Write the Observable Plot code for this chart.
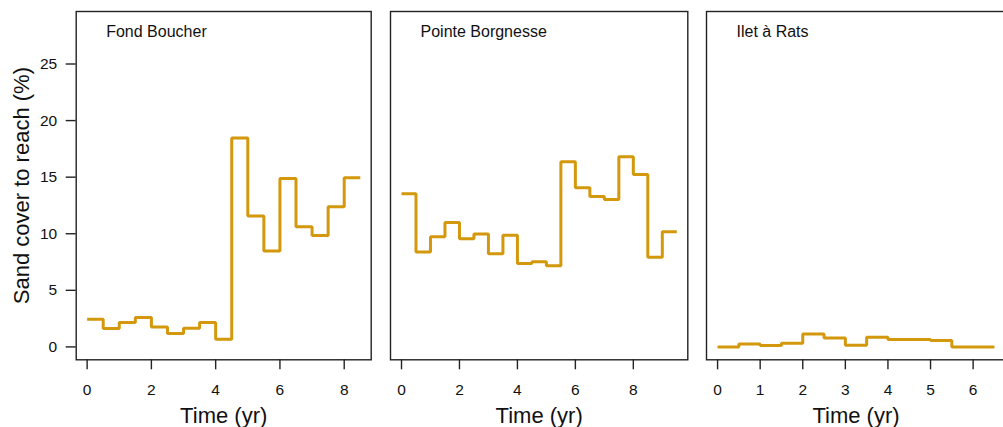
<!DOCTYPE html>
<html>
<head>
<meta charset="utf-8">
<script src="https://cdn.jsdelivr.net/npm/d3@7"></script>
<script src="https://cdn.jsdelivr.net/npm/@observablehq/plot@0.6"></script>
<style>
html, body { margin: 0; padding: 0; background: #fff; overflow: hidden; }
#chart { position: relative; width: 1003px; height: 427px; overflow: hidden; background: #fff; }
#chart > svg { position: absolute; top: 0; }
</style>
</head>
<body>
<div id="chart"></div>
<script>
// ---- data ----
const siteNames = ["Fond Boucher", "Pointe Borgnesse", "Ilet à Rats"];
const stepYears = 0.5;
const fondBoucher = [2.45, 1.62, 2.15, 2.59, 1.76, 1.18, 1.65, 2.15, 0.68, 18.47, 11.56, 8.47, 14.88, 10.62, 9.85, 12.38, 14.94];
const pointeBorgnesse = [13.54, 8.38, 9.74, 11.0, 9.56, 9.97, 8.24, 9.86, 7.36, 7.53, 7.18, 16.36, 14.07, 13.3, 13.03, 16.8, 15.24, 7.92, 10.18];
const iletARats = [0, 0.26, 0.12, 0.32, 1.15, 0.79, 0.15, 0.85, 0.65, 0.65, 0.56, 0, 0];
const xTicksA = [0, 2, 4, 6, 8];
const xTicksB = [0, 1, 2, 3, 4, 5, 6];
const yTicks = [0, 5, 10, 15, 20, 25];
const yLimit = [0, 28.5];
const xTitle = "Time (yr)";
const yTitle = "Sand cover to reach (%)";

// ---- layout ----
const FONT = "'Liberation Sans', Arial, Helvetica, sans-serif";
const LINE_COLOR = "#D4980C";
const INK = "#222";
const TICK_FONT = 15.5;
const H = 427, MT = 11, MB = H - 359.3;
const ySpan = yLimit[1] - yLimit[0];
const yDomain = [yLimit[0] - 0.04 * ySpan, yLimit[1] + 0.04 * ySpan];

const panels = [
  {values: fondBoucher, name: siteNames[0], ticks: xTicksA, left: 0, width: 380, ml: 75.7, mr: 9.3, showY: true},
  {values: pointeBorgnesse, name: siteNames[1], ticks: xTicksA, left: 380, width: 318, ml: 10, mr: 10.7, showY: false},
  {values: iletARats, name: siteNames[2], ticks: xTicksB, left: 698, width: 312, ml: 8, mr: 5, showY: false}
];

const chart = document.getElementById("chart");

for (const p of panels) {
  const rows = p.values.map((v, i) => ({t: i * stepYears, v}));
  rows.push({t: p.values.length * stepYears, v: p.values[p.values.length - 1]});
  const xmax = p.values.length * stepYears;
  const xDomain = [-0.04 * xmax, xmax * 1.04];

  const marks = [
    // tick marks from the library's axis, labels as text marks on the same scale
    Plot.axisX({ticks: p.ticks, tickSize: 10, stroke: INK, strokeWidth: 1.4, text: null, label: null}),
    Plot.text(p.ticks, {x: d => d, text: d => String(d), frameAnchor: "bottom", lineAnchor: "middle", textAnchor: "middle", dy: 30, fontSize: TICK_FONT, fill: "#111"}),
    Plot.line(rows, {x: "t", y: "v", curve: "step-after", stroke: LINE_COLOR, strokeWidth: 3, strokeLinejoin: "miter", strokeLinecap: "butt"}),
    Plot.frame({stroke: INK, strokeWidth: 1.4}),
    Plot.text([p.name], {text: d => d, frameAnchor: "top-left", textAnchor: "start", lineAnchor: "middle", dx: 30, dy: 20, fontSize: 16, fill: "#111"}),
    Plot.text([xTitle], {text: d => d, frameAnchor: "bottom", textAnchor: "middle", lineAnchor: "middle", dy: 56, fontSize: 22, fill: "#111"})
  ];
  if (p.showY) {
    marks.push(
      Plot.axisY({ticks: yTicks, tickSize: 10, stroke: INK, strokeWidth: 1.4, text: null, label: null}),
      Plot.text(yTicks, {y: d => d, text: d => String(d), frameAnchor: "left", textAnchor: "end", lineAnchor: "middle", dx: -19, fontSize: TICK_FONT, fill: "#111"}),
      Plot.text([yTitle], {text: d => d, frameAnchor: "left", rotate: -90, textAnchor: "middle", lineAnchor: "middle", dx: -54, fontSize: 22, fill: "#111"})
    );
  }

  const svg = Plot.plot({
    width: p.width,
    height: H,
    marginLeft: p.ml,
    marginRight: p.mr,
    marginTop: MT,
    marginBottom: MB,
    x: {domain: xDomain, axis: null},
    y: {domain: yDomain, axis: null},
    style: {fontFamily: FONT, fontSize: "15.5px", background: "transparent", overflow: "visible"},
    marks
  });
  svg.style.left = p.left + "px";
  chart.appendChild(svg);
}
</script>
</body>
</html>
